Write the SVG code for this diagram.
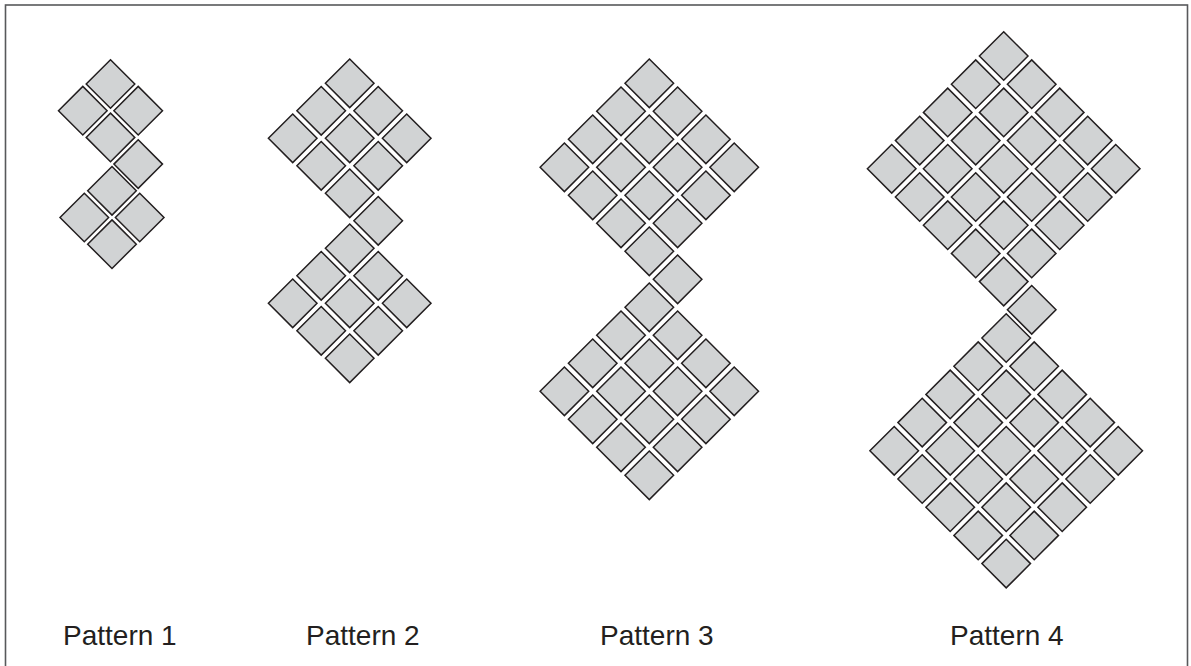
<svg xmlns="http://www.w3.org/2000/svg" xmlns:xlink="http://www.w3.org/1999/xlink" width="1191" height="666" viewBox="0 0 1191 666">
<style>
.tile{fill:#d1d3d4;stroke:#231f20;stroke-width:1.5;stroke-linejoin:miter}
.lbl{font-family:"Liberation Sans",Arial,sans-serif;font-size:28px;fill:#231f20}
.frame{fill:none;stroke:#58595b;stroke-width:1.6}
</style>
<defs>
<path id="t" class="tile" d="M0,-24.3 L24.3,0 L0,24.3 L-24.3,0 Z"/>
</defs>
<rect width="1191" height="666" fill="#ffffff"/>
<rect class="frame" x="5.5" y="5" width="1182" height="700"/>
<g id="pattern1">
<use href="#t" x="110.5" y="84"/>
<use href="#t" x="138.2" y="110.7"/><use href="#t" x="82.8" y="110.7"/>
<use href="#t" x="110.5" y="137.4"/>
<use href="#t" x="138.2" y="164.1"/>
<use href="#t" x="112" y="190.8"/>
<use href="#t" x="139.7" y="217.5"/><use href="#t" x="84.3" y="217.5"/>
<use href="#t" x="112" y="244.2"/>
</g>
<g id="pattern2">
<use href="#t" x="349.7" y="83.3"/>
<use href="#t" x="378.2" y="110.8"/><use href="#t" x="321.2" y="110.8"/>
<use href="#t" x="406.7" y="138.3"/><use href="#t" x="349.7" y="138.3"/><use href="#t" x="292.7" y="138.3"/>
<use href="#t" x="378.2" y="165.8"/><use href="#t" x="321.2" y="165.8"/>
<use href="#t" x="349.7" y="193.3"/>
<use href="#t" x="378.2" y="220.8"/>
<use href="#t" x="349.7" y="248.3"/>
<use href="#t" x="378.2" y="275.8"/><use href="#t" x="321.2" y="275.8"/>
<use href="#t" x="406.7" y="303.3"/><use href="#t" x="349.7" y="303.3"/><use href="#t" x="292.7" y="303.3"/>
<use href="#t" x="378.2" y="330.8"/><use href="#t" x="321.2" y="330.8"/>
<use href="#t" x="349.7" y="358.3"/>
</g>
<g id="pattern3">
<use href="#t" x="649.3" y="83.3"/>
<use href="#t" x="621" y="111.3"/><use href="#t" x="677.6" y="111.3"/>
<use href="#t" x="592.7" y="139.3"/><use href="#t" x="649.3" y="139.3"/><use href="#t" x="705.9" y="139.3"/>
<use href="#t" x="564.4" y="167.3"/><use href="#t" x="621" y="167.3"/><use href="#t" x="677.6" y="167.3"/><use href="#t" x="734.2" y="167.3"/>
<use href="#t" x="592.7" y="195.3"/><use href="#t" x="649.3" y="195.3"/><use href="#t" x="705.9" y="195.3"/>
<use href="#t" x="621" y="223.3"/><use href="#t" x="677.6" y="223.3"/>
<use href="#t" x="649.3" y="251.3"/>
<use href="#t" x="677.6" y="279.3"/>
<use href="#t" x="649.3" y="307.3"/>
<use href="#t" x="621" y="335.3"/><use href="#t" x="677.6" y="335.3"/>
<use href="#t" x="592.7" y="363.3"/><use href="#t" x="649.3" y="363.3"/><use href="#t" x="705.9" y="363.3"/>
<use href="#t" x="564.4" y="391.3"/><use href="#t" x="621" y="391.3"/><use href="#t" x="677.6" y="391.3"/><use href="#t" x="734.2" y="391.3"/>
<use href="#t" x="592.7" y="419.3"/><use href="#t" x="649.3" y="419.3"/><use href="#t" x="705.9" y="419.3"/>
<use href="#t" x="621" y="447.3"/><use href="#t" x="677.6" y="447.3"/>
<use href="#t" x="649.3" y="475.3"/>
</g>
<g id="pattern4">
<use href="#t" x="1003.7" y="56"/>
<use href="#t" x="975.7" y="84.2"/><use href="#t" x="1031.7" y="84.2"/>
<use href="#t" x="947.7" y="112.4"/><use href="#t" x="1003.7" y="112.4"/><use href="#t" x="1059.7" y="112.4"/>
<use href="#t" x="919.7" y="140.6"/><use href="#t" x="975.7" y="140.6"/><use href="#t" x="1031.7" y="140.6"/><use href="#t" x="1087.7" y="140.6"/>
<use href="#t" x="891.7" y="168.8"/><use href="#t" x="947.7" y="168.8"/><use href="#t" x="1003.7" y="168.8"/><use href="#t" x="1059.7" y="168.8"/><use href="#t" x="1115.7" y="168.8"/>
<use href="#t" x="919.7" y="197"/><use href="#t" x="975.7" y="197"/><use href="#t" x="1031.7" y="197"/><use href="#t" x="1087.7" y="197"/>
<use href="#t" x="947.7" y="225.2"/><use href="#t" x="1003.7" y="225.2"/><use href="#t" x="1059.7" y="225.2"/>
<use href="#t" x="975.7" y="253.4"/><use href="#t" x="1031.7" y="253.4"/>
<use href="#t" x="1003.7" y="281.6"/>
<use href="#t" x="1031.7" y="309.8"/>
<use href="#t" x="1006.2" y="338"/>
<use href="#t" x="978.2" y="366.2"/><use href="#t" x="1034.2" y="366.2"/>
<use href="#t" x="950.2" y="394.4"/><use href="#t" x="1006.2" y="394.4"/><use href="#t" x="1062.2" y="394.4"/>
<use href="#t" x="922.2" y="422.6"/><use href="#t" x="978.2" y="422.6"/><use href="#t" x="1034.2" y="422.6"/><use href="#t" x="1090.2" y="422.6"/>
<use href="#t" x="894.2" y="450.8"/><use href="#t" x="950.2" y="450.8"/><use href="#t" x="1006.2" y="450.8"/><use href="#t" x="1062.2" y="450.8"/><use href="#t" x="1118.2" y="450.8"/>
<use href="#t" x="922.2" y="479"/><use href="#t" x="978.2" y="479"/><use href="#t" x="1034.2" y="479"/><use href="#t" x="1090.2" y="479"/>
<use href="#t" x="950.2" y="507.2"/><use href="#t" x="1006.2" y="507.2"/><use href="#t" x="1062.2" y="507.2"/>
<use href="#t" x="978.2" y="535.4"/><use href="#t" x="1034.2" y="535.4"/>
<use href="#t" x="1006.2" y="563.6"/>
</g>
<g id="labels">
<text class="lbl" x="63" y="645">Pattern 1</text>
<text class="lbl" x="306" y="645">Pattern 2</text>
<text class="lbl" x="600" y="645">Pattern 3</text>
<text class="lbl" x="950" y="645">Pattern 4</text>
</g>
</svg>
